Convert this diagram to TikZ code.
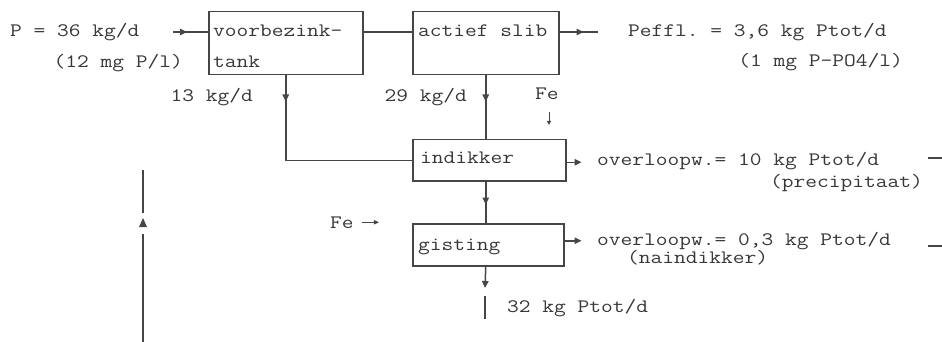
\documentclass[tikz,border=0pt]{standalone}
\usepackage{fontspec}
\usetikzlibrary{arrows.meta,decorations.markings}
\definecolor{ink}{RGB}{55,55,55}
\definecolor{linec}{RGB}{70,70,70}
\newcommand{\xtxt}[1]{\scalebox{1.2}[1]{#1}}
\tikzset{
  ln/.style={draw=linec, line width=1.5pt},
  boxs/.style={draw=linec, line width=1.5pt, inner sep=0pt, anchor=north west},
  txt/.style={inner sep=0pt, text=ink, font=\ttfamily\frenchspacing\fontsize{19}{22}\selectfont\addfontfeatures{FakeBold=1.6}},
  tip/.style={-{Triangle[length=7pt,width=6.5pt]}},
  midtri/.style={postaction={decorate,decoration={markings,mark=at position #1 with {\arrow[linec]{Triangle[length=7pt,width=6.5pt]}}}}}
}
\begin{document}
\begin{tikzpicture}[x=1pt,y=-1pt]
\useasboundingbox (0,0) rectangle (942,342);
% boxes
\node[boxs, minimum width=154pt, minimum height=63pt] (vb) at (208,11) {};
\node[boxs, minimum width=146pt, minimum height=63pt] (as) at (412,11) {};
\node[boxs, minimum width=153pt, minimum height=41pt] (ik) at (412,139) {};
\node[boxs, minimum width=151pt, minimum height=42pt] (gs) at (412,223) {};
% box texts
\node[txt, anchor=base west] (tvb1) at (213,37) {\xtxt{voorbezink-}};
\node[txt, anchor=base west] (tvb2) at (213,68) {\xtxt{tank}};
\node[txt, anchor=base west] (tas) at (418,37) {\xtxt{actief slib}};
\node[txt, anchor=base west] (tik) at (420,164) {\xtxt{indikker}};
\node[txt, anchor=base west] (tgs) at (418,250) {\xtxt{gisting}};
% labels
\node[txt, anchor=base west] (lin1) at (10,37) {\xtxt{P = 36 kg/d}};
\node[txt, anchor=base east] (lin2) at (183,68) {\xtxt{(12 mg P/l)}};
\node[txt, anchor=base west] (lout1) at (628,37) {\xtxt{Peffl. = 3,6 kg Ptot/d}};
\node[txt, anchor=base east] (lout2) at (903,67) {\xtxt{(1 mg P-PO4/l)}};
\node[txt, anchor=base east] (l13) at (253,102) {\xtxt{13 kg/d}};
\node[txt, anchor=base east] (l29) at (467,102) {\xtxt{29 kg/d}};
\node[txt, anchor=base west] (fe1) at (535,100) {\xtxt{Fe}};
\node[txt, anchor=base west] (ov1) at (597,165) {\xtxt{overloopw.= 10 kg Ptot/d}};
\node[txt, anchor=base east] (pr1) at (923,187) {\xtxt{(precipitaat)}};
\node[txt, anchor=base west] (fe2) at (330,228) {\xtxt{Fe}};
\node[txt, anchor=base west] (ov2) at (597,245) {\xtxt{overloopw.= 0,3 kg Ptot/d}};
\node[txt, anchor=base west] (na2) at (627,263) {\xtxt{(naindikker)}};
\node[txt, anchor=base west] (l32) at (507,312) {\xtxt{32 kg Ptot/d}};
% coordinates
\coordinate (pin) at (173,32);
\coordinate (pout) at (598,32);
\coordinate (bt) at (485,288);
\coordinate (b1) at (485,296);
\coordinate (b2) at (485,319);
\coordinate (fa) at (549,112);
\coordinate (fb) at (549,125);
\coordinate (L0) at (143,342);
\coordinate (L1) at (143,234);
\coordinate (L2) at (143,213);
\coordinate (L3) at (143,170);
\coordinate (d1a) at (928,158);
\coordinate (d1b) at (942,158);
\coordinate (d2a) at (928,246);
\coordinate (d2b) at (942,246);
% connectors
\draw[ln, midtri=14pt] (pin) -- (vb.west |- pin);
\draw[ln] (vb.east |- pin) -- (as.west |- pin);
\draw[ln, midtri=24pt] (as.east |- pin) -- (pout);
\draw[ln, midtri=26pt] (vb.south) -- (vb.south |- ik.west) -- (ik.west);
\draw[ln, midtri=26pt] (as.south) -- (as.south |- ik.north);
\draw[ln, midtri=23pt] (as.south |- ik.south) -- (as.south |- gs.north);
\draw[ln, tip] (as.south |- gs.south) -- (bt);
\draw[ln] (b1) -- (b2);
\draw[ln, tip] ([yshift=-2pt]ik.east) -- ++(15,0);
\draw[ln, tip] ([yshift=4pt]gs.east) -- ++(17,0);
\draw[ln, line width=1pt, -{Triangle[length=4pt,width=4pt]}] (fa) -- (fb);
\draw[ln, line width=1pt, -{Triangle[length=5pt,width=4.5pt]}] ([xshift=8pt]fe2.east) -- ++(17,0);
\draw[ln] (L0) -- (L1);
\draw[ln] (L2) -- (L3);
\fill[linec] (143,218) -- ++(-4,9) -- ++(8,0) -- cycle;
\draw[ln] (d1a) -- (d1b);
\draw[ln] (d2a) -- (d2b);
\end{tikzpicture}
\end{document}
